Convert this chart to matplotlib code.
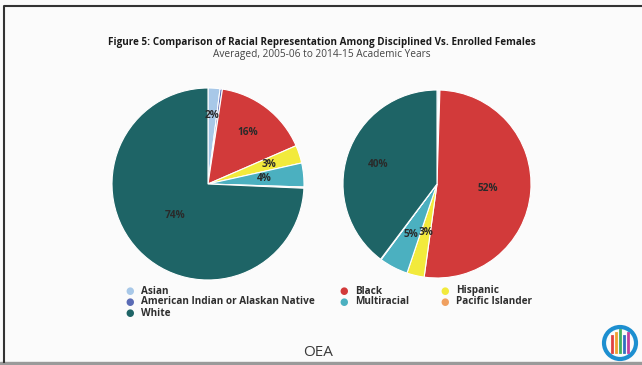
import matplotlib.pyplot as plt
import numpy as np
from matplotlib.patches import Circle, Rectangle

# legend / category order
categories = ["Asian", "American Indian or Alaskan Native", "Black", "Hispanic",
              "Multiracial", "Pacific Islander", "White"]
colors = ["#a8c8e8", "#5a6bb5", "#d23a3a", "#f2ea3c", "#4bb0c0", "#f0a060", "#1e6466"]

# percentages
disciplined = [2, 0.4, 16, 3, 4, 0.2, 74]
enrolled = [0.3, 0.2, 52, 3, 5, 0.1, 40]
disc_labels = ["2%", "", "16%", "3%", "4%", "", "74%"]
enr_labels = ["", "", "52%", "3%", "5%", "", "40%"]
disc_label_r = [0.72, 0, 0.68, 0.67, 0.59, 0, 0.47]
enr_label_r = [0, 0, 0.54, 0.53, 0.6, 0, 0.66]

W, H = 642, 365
plt.rcParams["font.family"] = ["Open Sans", "DejaVu Sans"]
fig = plt.figure(figsize=(W / 100, H / 100), dpi=100)
fig.patch.set_facecolor("#fbfbfb")


def px_axes(cx, cy, r):
    return fig.add_axes([(cx - r) / W, 1 - (cy + r) / H, 2 * r / W, 2 * r / H])


def draw_pie(cx, cy, r, values, labels, label_r):
    ax = px_axes(cx, cy, r)
    wedges, _ = ax.pie(values, colors=colors, startangle=90, counterclock=False,
                       radius=1, wedgeprops=dict(edgecolor="white", linewidth=0.8))
    for w, lab, d in zip(wedges, labels, label_r):
        if not lab:
            continue
        mid = np.radians((w.theta1 + w.theta2) / 2)
        ax.text(d * np.cos(mid), d * np.sin(mid), lab, ha="center", va="center",
                fontsize=7.3, fontweight="bold", color="#2a2a2a")
    ax.set_xlim(-1, 1)
    ax.set_ylim(-1, 1)
    ax.set_aspect("equal")
    ax.axis("off")


draw_pie(208, 184, 96, disciplined, disc_labels, disc_label_r)
draw_pie(437, 184, 94, enrolled, enr_labels, enr_label_r)

# titles
fig.text(322 / W, 1 - 43 / H, "Figure 5: Comparison of Racial Representation Among Disciplined Vs. Enrolled Females",
         ha="center", va="center", fontsize=7.1, fontweight="bold", color="#1a1a1a")
fig.text(322 / W, 1 - 55 / H, "Averaged, 2005-06 to 2014-15 Academic Years",
         ha="center", va="center", fontsize=7.3, color="#444444")

# legend
leg_pos = [(130, 291), (130, 302), (344, 291), (445, 291), (344, 302), (445, 302), (130, 313)]
for (lx, ly), name, c in zip(leg_pos, categories, colors):
    fig.text(lx / W, 1 - ly / H, "\u25CF", ha="center", va="center", fontsize=7,
             color=c, family="DejaVu Sans")
    fig.text((lx + 11) / W, 1 - ly / H, name, ha="left", va="center",
             fontsize=7.2, fontweight="bold", color="#2e2e2e")

# footer
fig.text(318 / W, 1 - 353 / H, "OEA", ha="center", va="center", fontsize=11,
         color="#3a3a3a")

# frame of the slide
frame = fig.add_axes([0, 0, 1, 1], zorder=-1)
frame.set_xlim(0, W)
frame.set_ylim(H, 0)
frame.axis("off")
frame.plot([4, 4, W], [H - 3, 6, 6], color="#333333", linewidth=1.5)
frame.add_patch(Rectangle((0, 362), W, 3, color="#9a9a9a"))

# right logo ring
logo = fig.add_axes([0, 0, 1, 1], zorder=2)
logo.set_xlim(0, W)
logo.set_ylim(H, 0)
logo.axis("off")
logo.add_patch(Circle((620, 343), 16, fill=False, edgecolor="#1d8fd0", linewidth=3))
for i, c in enumerate(["#e04040", "#f0a030", "#40b060", "#3070c0", "#c040a0"]):
    logo.plot([612 + i * 4, 612 + i * 4], [352, 336 - (i % 3) * 3], color=c, linewidth=2)

fig.savefig("out.png", dpi=100)
